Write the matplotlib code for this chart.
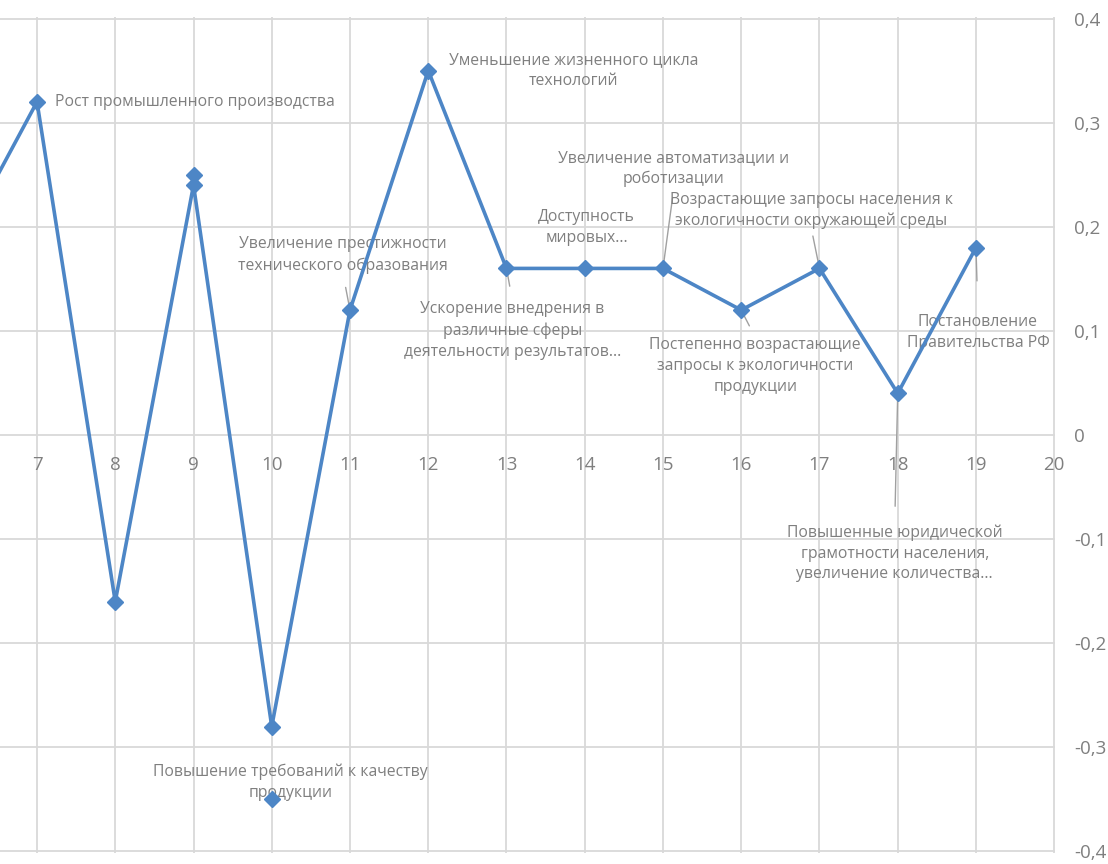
import matplotlib
matplotlib.use("Agg")
import matplotlib.pyplot as plt
from matplotlib.ticker import FuncFormatter, MultipleLocator

plt.rcParams['font.family'] = ['Open Sans', 'DejaVu Sans']

# main series
x_vals = [6, 7, 8, 9, 10, 11, 12, 13, 14, 15, 16, 17, 18, 19]
y_vals = [0.18, 0.32, -0.16, 0.24, -0.28, 0.12, 0.35, 0.16, 0.16, 0.16, 0.12, 0.16, 0.04, 0.18]

# stray markers without a line
extra_x = [9, 10]
extra_y = [0.25, -0.35]

# labels: (text, x of the point it belongs to, y of that point)
labels = [
    ("Рост промышленного производства", 7, 0.32),
    ("Уменьшение жизненного цикла\nтехнологий", 12, 0.35),
    ("Увеличение автоматизации и\nроботизации", 15, 0.16),
    ("Возрастающие запросы населения к\nэкологичности окружающей среды", 17, 0.16),
    ("Доступность\nмировых...", 14, 0.16),
    ("Увеличение престижности\nтехнического образования", 11, 0.12),
    ("Ускорение внедрения в\nразличные сферы\nдеятельности результатов...", 13, 0.16),
    ("Постепенно возрастающие\nзапросы к экологичности\nпродукции", 16, 0.12),
    ("Постановление\nПравительства РФ", 19, 0.18),
    ("Повышенные юридической\nграмотности населения,\nувеличение количества...", 18, 0.04),
    ("Повышение требований к качеству\nпродукции", 10, -0.35),
]

# layout for each label: offset in px, alignment, leader (relpos, shrinkA) or None
layout = [
    ((18, 0), 'left', None),
    ((145, 0), 'center', None),
    ((11, 100), 'center', ((0.5, 0.0), 6)),
    ((-8, 58), 'center', ((0.5, 0.0), 3)),
    ((2, 41), 'center', None),
    ((-7, 55), 'center', ((0.5, 0.0), 8)),
    ((6, -62), 'center', ((0.5, 1.0), 9)),
    ((14, -56), 'center', ((0.5, 1.0), 7)),
    ((2, -85), 'center', ((0.5, 1.0), 22)),
    ((-3, -160), 'center', ((0.5, 1.0), 11)),
    ((19, 17), 'center', None),
]

line_color = '#4d86c6'
text_color = '#7f7f7f'
grid_color = '#d9d9d9'

fig = plt.figure(figsize=(11.08, 8.64), dpi=100)
ax = fig.add_axes([0, 11 / 864, 1055 / 1108, 836 / 864])

ax.plot(x_vals, y_vals, color=line_color, lw=2.6, marker='D', markersize=8,
        zorder=3)
ax.plot(extra_x, extra_y, ls='none', color=line_color, marker='D',
        markersize=8, zorder=3)

for (txt, px, py), (off, ha, leader) in zip(labels, layout):
    kw = {}
    if leader is not None:
        kw['arrowprops'] = dict(arrowstyle='-', color='#a0a0a0', lw=1.0,
                                relpos=leader[0], shrinkA=leader[1], shrinkB=0)
    ax.annotate(txt, xy=(px, py), xytext=(off[0] * 0.72, off[1] * 0.72),
                textcoords='offset points', ha=ha, va='center',
                fontsize=11.3, color=text_color, linespacing=1.4,
                zorder=1, **kw)

ax.set_xlim(6.527, 20.01)
ax.set_ylim(-0.4015, 0.4015)
ax.xaxis.set_major_locator(MultipleLocator(1))
ax.yaxis.set_major_locator(MultipleLocator(0.1))
ax.set_xticks(range(7, 21))
ax.grid(True, color=grid_color, lw=1.3, zorder=0)
ax.set_axisbelow(True)

for s in ax.spines.values():
    s.set_visible(False)
ax.spines['bottom'].set_position(('data', 0))

ax.yaxis.tick_right()
ax.yaxis.set_major_formatter(FuncFormatter(
    lambda v, p: '0' if abs(v) < 1e-9 else f"{v:.1f}".replace('.', ',')))
ax.tick_params(axis='y', length=0, pad=14, labelsize=13.5, labelcolor=text_color)
ax.tick_params(axis='x', length=0, pad=15, labelsize=13.5, labelcolor=text_color)

fig.savefig("out.png", dpi=100)
